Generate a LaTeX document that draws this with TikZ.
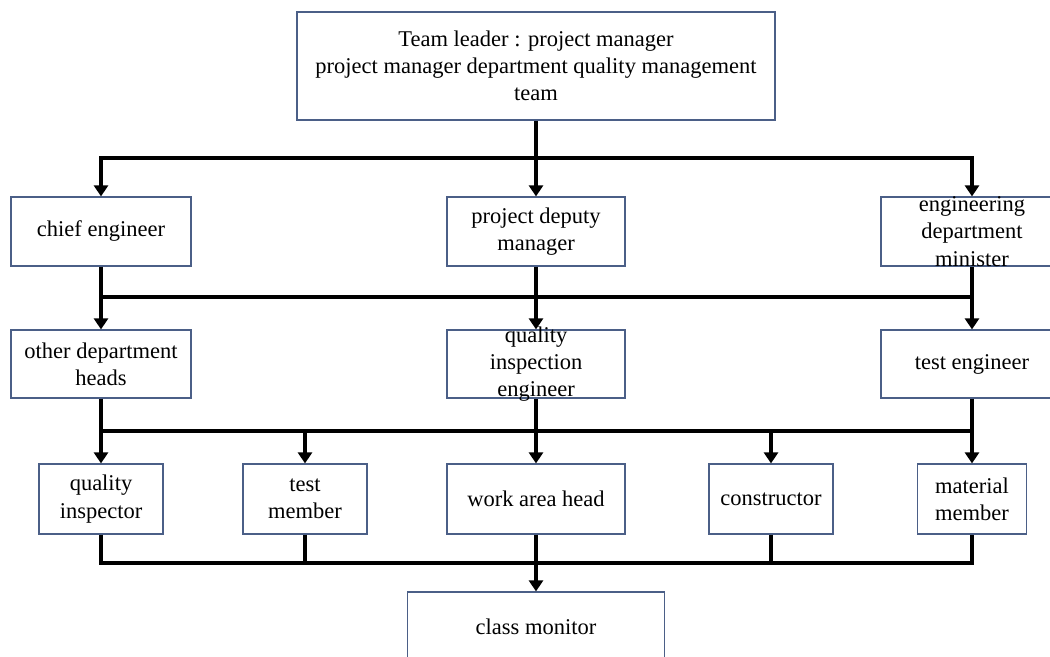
\documentclass[tikz,border=0pt]{standalone}
\usepackage{fontspec}
\setmainfont{Liberation Serif}
\usetikzlibrary{arrows.meta}
\definecolor{boxc}{RGB}{75,95,135}
\begin{document}
\begin{tikzpicture}[x=0.5pt,y=-0.5pt,
  box/.style={draw=boxc,line width=0.6pt,fill=white,inner sep=0pt},
  txt/.style={align=center,font=\fontsize{11.25}{13.6}\selectfont,inner sep=0pt,text=black},
  conn/.style={line width=1.8pt},
  bus/.style={line width=1.8pt,line cap=rect},
  tip/.style={-{Triangle[width=7pt,length=5.5pt]}},
  arr/.style={line width=1.8pt,tip}]
\useasboundingbox (0,0) rectangle (1050,657);
% bus levels
\coordinate (b1) at (0,158);
\coordinate (b2) at (0,297);
\coordinate (b3) at (0,431);
\coordinate (b4) at (0,563);
% top
\node[box,minimum width=239pt,minimum height=54pt,label={[txt]center:{Team leader : project manager\\project manager department quality management\\team}}] (top) at (536,66) {};
% row 2
\node[box,minimum width=90pt,minimum height=34.5pt,label={[txt]center:{chief engineer}}] (chief) at (101,231.5) {};
\node[box,minimum width=89pt,minimum height=34.5pt,label={[txt]center:{project deputy\\manager}}] (dep) at (536,231.5) {};
\node[box,minimum width=91pt,minimum height=34.5pt,label={[txt]center:{engineering\\department\\minister}}] (min) at (972,231.5) {};
% row 3
\node[box,minimum width=90pt,minimum height=34pt,label={[txt]center:{other department\\heads}}] (odh) at (101,364) {};
\node[box,minimum width=89pt,minimum height=34pt,label={[txt]center:{quality\\inspection\\engineer}}] (qie) at (536,364) {};
\node[box,minimum width=91pt,minimum height=34pt,label={[txt]center:{test engineer}}] (te) at (972,364) {};
% row 4
\node[box,minimum width=62pt,minimum height=35pt,label={[txt]center:{quality\\inspector}}] (qi) at (101,499) {};
\node[box,minimum width=62pt,minimum height=35pt,label={[txt]center:{test\\member}}] (tm) at (305,499) {};
\node[box,minimum width=89pt,minimum height=35pt,label={[txt]center:{work area head}}] (wah) at (536,499) {};
\node[box,minimum width=62pt,minimum height=35pt,label={[txt]center:{constructor}}] (con) at (771,499) {};
\node[box,minimum width=54.5pt,minimum height=35pt,label={[txt]center:{material\\member}}] (mm) at (972,499) {};
% bottom
\node[box,minimum width=128.5pt,minimum height=35pt,label={[txt]center:{class monitor}}] (cm) at (536,627) {};
% connectors level 1
\draw[conn] (top.south) -- (top.south |- b1);
\draw[conn,{Triangle[width=7pt,length=5.5pt]}-{Triangle[width=7pt,length=5.5pt]}] (chief.north) -- (chief.north |- b1) -- (min.north |- b1) -- (min.north);
\draw[arr] (dep.north |- b1) -- (dep.north);
% level 2
\draw[bus] (chief.south |- b2) -- (min.south |- b2);
\draw[arr] (chief.south) -- (odh.north);
\draw[arr] (dep.south) -- (qie.north);
\draw[arr] (min.south) -- (te.north);
% level 3
\draw[bus] (odh.south |- b3) -- (te.south |- b3);
\draw[arr] (odh.south) -- (qi.north);
\draw[arr] (tm.north |- b3) -- (tm.north);
\draw[arr] (qie.south) -- (wah.north);
\draw[arr] (con.north |- b3) -- (con.north);
\draw[arr] (te.south) -- (mm.north);
% level 4
\draw[conn] (qi.south) -- (qi.south |- b4) -- (mm.south |- b4) -- (mm.south);
\draw[conn] (tm.south) -- (tm.south |- b4);
\draw[conn] (con.south) -- (con.south |- b4);
\draw[arr] (wah.south) -- (cm.north);
\end{tikzpicture}
\end{document}
